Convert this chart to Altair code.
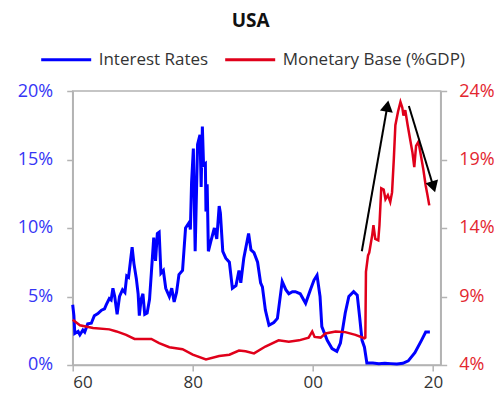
import altair as alt
import pandas as pd

# Interest rates (left axis, %)
rate_year = [1960.0, 1960.2, 1960.35, 1960.9, 1961.2, 1961.7, 1962.0, 1962.5, 1963.1, 1963.6,
             1964.2, 1964.8, 1965.3, 1965.6, 1966.1, 1966.4, 1966.7, 1967.0, 1967.4, 1967.8,
             1968.3, 1968.7, 1969.0, 1969.3, 1969.6, 1969.9, 1970.2, 1970.6, 1970.9, 1971.1,
             1971.4, 1971.7, 1972.0, 1972.4, 1972.8, 1973.1, 1973.5, 1973.8, 1974.1, 1974.4,
             1974.7, 1975.1, 1975.5, 1976.1, 1976.5, 1976.9, 1977.3, 1977.7, 1978.3, 1978.8,
             1979.4, 1979.6, 1979.8, 1980.1, 1980.4, 1980.8, 1981.2, 1981.4, 1981.6, 1981.8,
             1982.1, 1982.2, 1982.4, 1982.6, 1983.0, 1983.6, 1984.0, 1984.4, 1984.6, 1985.0,
             1985.5, 1986.1, 1986.6, 1987.2, 1987.7, 1988.0, 1988.5, 1989.3, 1989.7, 1990.2,
             1990.8, 1991.3, 1991.6, 1992.1, 1992.7, 1993.5, 1994.1, 1994.9, 1995.5, 1996.0,
             1996.6, 1997.1, 1997.9, 1998.8, 1999.6, 2000.2, 2000.7, 2001.2, 2001.5, 2002.4,
             2003.2, 2004.0, 2004.6, 2005.4, 2006.0, 2006.8, 2007.4, 2007.8, 2008.2, 2008.6,
             2009.0, 2010.0, 2011.0, 2012.0, 2013.0, 2014.0, 2015.0, 2015.9, 2017.0, 2018.1,
             2018.8, 2019.5]
rate_value = [4.4, 3.6, 2.3, 2.45, 2.2, 2.55, 2.4, 3.0, 3.05, 3.6,
              3.75, 4.0, 4.1, 4.4, 4.85, 4.75, 5.6, 5.0, 3.7, 5.0,
              5.5, 5.3, 6.5, 6.4, 7.5, 8.6, 7.4, 6.3, 5.2, 3.6,
              4.8, 5.2, 3.7, 3.8, 4.8, 6.7, 9.3, 7.6, 9.6, 9.7,
              6.7, 6.9, 5.6, 5.0, 5.6, 4.6, 5.3, 6.6, 6.9, 10.0,
              10.4, 9.9, 13.3, 15.8, 8.3, 16.1, 16.8, 13.0, 17.4, 14.6,
              14.7, 11.2, 13.2, 8.3, 9.0, 10.0, 9.2, 11.6, 11.1, 8.3,
              7.8, 7.5, 5.6, 5.8, 6.9, 6.0, 7.8, 9.6, 8.4, 8.2,
              7.5, 6.0, 5.7, 4.0, 2.9, 3.1, 3.4, 6.1, 5.5, 5.2,
              5.35, 5.35, 5.2, 4.5, 5.5, 6.2, 6.55, 5.0, 2.8, 1.8,
              1.2, 1.0, 1.6, 3.8, 5.0, 5.35, 5.1, 3.5, 1.8, 1.3,
              0.15, 0.15, 0.1, 0.12, 0.1, 0.08, 0.12, 0.3, 0.9, 1.8,
              2.4, 2.4]

# Monetary base, % of GDP (right axis)
base_year = [1960.0, 1961.2, 1963.4, 1966.1, 1967.3, 1968.9, 1970.3, 1973.1, 1974.4, 1976.1,
             1978.3, 1980.0, 1982.2, 1984.4, 1986.1, 1987.7, 1988.8, 1990.2, 1992.1, 1994.3,
             1996.0, 1997.7, 1999.3, 1999.9, 2000.3, 2001.3, 2002.1, 2003.8, 2005.4, 2007.1,
             2008.6, 2008.75, 2008.85, 2009.2, 2009.4, 2009.9, 2010.1, 2010.4, 2010.9, 2011.1,
             2011.4, 2011.8, 2012.1, 2012.5, 2012.9, 2013.2, 2013.5, 2013.75, 2014.2, 2014.6,
             2014.9, 2015.1, 2015.4, 2015.8, 2016.2, 2016.6, 2016.9, 2017.2, 2017.6, 2018.0,
             2018.4, 2018.8, 2019.1, 2019.4]
base_value = [7.3, 6.9, 6.7, 6.6, 6.45, 6.2, 5.9, 5.9, 5.6, 5.3,
              5.15, 4.75, 4.4, 4.65, 4.75, 5.05, 5.0, 4.85, 5.35, 5.8,
              5.7, 5.8, 6.0, 6.45, 6.05, 6.0, 6.3, 6.45, 6.4, 6.2,
              5.95, 6.0, 10.8, 12.0, 12.2, 13.5, 14.2, 13.2, 13.1, 14.2,
              16.9, 16.8, 16.1, 16.4, 15.9, 16.6, 19.1, 21.5, 22.5, 23.2,
              22.8, 22.2, 22.6, 21.5, 20.5, 19.5, 18.45, 20.0, 20.3, 19.3,
              18.3, 17.1, 16.4, 15.65]

# Annotation arrows (in right-axis units)
arrow_x = [2008.16, 2016.0]
arrow_y = [12.3, 22.9]
arrow_x2 = [2012.36, 2020.0]
arrow_y2 = [22.76, 17.14]
arrow_angle = [10, 163]

series_names = ["Interest Rates", "Monetary Base (%GDP)"]
series_colors = ["#0000ff", "#e0001a"]

FONT = "Open Sans"
GRAY = "#b3b3b3"

rates = pd.DataFrame({"year": rate_year, "value": rate_value, "series": series_names[0]})
base = pd.DataFrame({"year": base_year, "value": base_value, "series": series_names[1]})
arrows = pd.DataFrame({"year": arrow_x, "value": arrow_y, "year2": arrow_x2,
                       "value2": arrow_y2, "angle": arrow_angle})

xscale = alt.Scale(domain=[1960, 2021.3], nice=False, zero=False)
xaxis = alt.Axis(values=[1960, 1980, 2000, 2020],
                 labelExpr="substring(toString(datum.value), 2, 4)",
                 title=None, grid=False, domainColor=GRAY, domainWidth=1.5,
                 tickColor=GRAY, tickWidth=1.5, tickSize=6, labelFont=FONT,
                 labelFontSize=17, labelColor="#333333", labelPadding=4)

lscale = alt.Scale(domain=[0, 20], nice=False, zero=False)
laxis = alt.Axis(orient="left", values=[0, 5, 10, 15, 20], labelExpr="datum.value + '%'",
                 title=None, grid=False, domainColor=GRAY, domainWidth=1.5,
                 tickColor=GRAY, tickWidth=1.5, tickSize=6, labelFont=FONT,
                 labelFontSize=18, labelColor="#3535f5", labelPadding=14)

rscale = alt.Scale(domain=[4, 24], nice=False, zero=False)
raxis = alt.Axis(orient="right", values=[4, 9, 14, 19, 24], labelExpr="datum.value + '%'",
                 title=None, grid=False, domainColor=GRAY, domainWidth=1.5,
                 tickColor=GRAY, tickWidth=1.5, tickSize=6, labelFont=FONT,
                 labelFontSize=18, labelColor="#e3262f", labelPadding=12)

color = alt.Color("series:N",
                  scale=alt.Scale(domain=series_names, range=series_colors),
                  legend=alt.Legend(orient="none", legendX=-33, legendY=-58,
                                    direction="horizontal", title=None,
                                    symbolType="stroke", symbolSize=2500,
                                    symbolStrokeWidth=3, labelFont=FONT,
                                    labelFontSize=17, labelColor="#333333",
                                    labelLimit=400, labelOffset=6, columnPadding=10))

left = alt.Chart(rates).mark_line(strokeWidth=3).encode(
    x=alt.X("year:Q", scale=xscale, axis=xaxis),
    y=alt.Y("value:Q", scale=lscale, axis=laxis),
    color=color,
)

red_line = alt.Chart(base).mark_line(strokeWidth=2.5).encode(
    x=alt.X("year:Q", scale=xscale, axis=xaxis),
    y=alt.Y("value:Q", scale=rscale, axis=raxis),
    color=color,
)

arrow_rule = alt.Chart(arrows).mark_rule(color="black", strokeWidth=2).encode(
    x=alt.X("year:Q", scale=xscale, axis=xaxis),
    y=alt.Y("value:Q", scale=rscale, axis=raxis),
    x2="year2:Q",
    y2="value2:Q",
)

arrow_head = alt.Chart(arrows).mark_point(shape="triangle", filled=True, size=170,
                                          color="black", opacity=1).encode(
    x=alt.X("year2:Q", scale=xscale, axis=xaxis),
    y=alt.Y("value2:Q", scale=rscale, axis=raxis),
    angle=alt.Angle("angle:Q", scale=None),
)

right = alt.layer(red_line, arrow_rule, arrow_head)

chart = alt.layer(left, right).resolve_scale(y="independent").properties(
    width=368, height=274,
    autosize=alt.AutoSizeParams(type="none"),
    padding={"left": 64.7, "top": 83, "right": 53, "bottom": 29},
    title=alt.Title("USA", font=FONT, fontSize=19, fontWeight="bold", color="#111111",
                    anchor="middle", frame="group", dx=-6, offset=2),
).configure_view(stroke=GRAY, strokeWidth=1.5)

chart.save("out.html", embed_options={"renderer": "svg", "actions": False})
